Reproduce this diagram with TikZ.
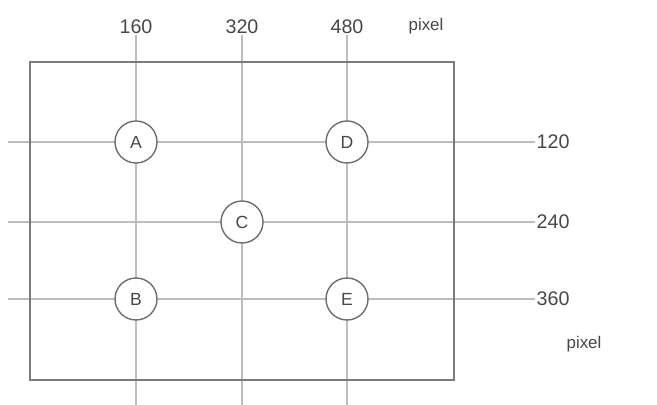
\documentclass[tikz,border=0pt]{standalone}
\usepackage{fontspec}
\setsansfont{Liberation Sans}
\usetikzlibrary{positioning}
\definecolor{gridcol}{HTML}{BDBDBD}
\definecolor{screencol}{HTML}{7A7A7A}
\definecolor{spotcol}{HTML}{6E6E6E}
\definecolor{txtcol}{HTML}{474747}

\begin{document}
\begin{tikzpicture}[
  x=0.025cm, y=-0.025cm,
  font=\sffamily,
  gridline/.style={draw=gridcol, line width=0.9pt},
  screen/.style={draw=screencol, line width=1.2pt},
  spot/.style={
    circle, draw=spotcol, fill=white, line width=1pt,
    minimum size=1.05cm, inner sep=0pt,
    font=\sffamily\fontsize{12.5}{14}\selectfont, text=txtcol,
  },
  tick/.style={font=\sffamily\fontsize{14}{16}\selectfont, text=txtcol, inner sep=1pt},
  unitlabel/.style={font=\sffamily\fontsize{12}{14}\selectfont, text=txtcol},
]
\useasboundingbox (0,0) rectangle (657,405);

% ============================================================
% COLUMN TICKS (x in pixel)
% ============================================================
\node[tick, anchor=south] (x160) at (136,35) {160};
\node[tick, anchor=south] (x320) at (242,35) {320};
\node[tick, anchor=south] (x480) at (347,35) {480};
\node[unitlabel] (xunit) at (426,26) {pixel};
\coordinate (x160end) at (136,405);
\coordinate (x320end) at (242,405);
\coordinate (x480end) at (347,405);
\draw[gridline] (x160) -- (x160end);
\draw[gridline] (x320) -- (x320end);
\draw[gridline] (x480) -- (x480end);

% ============================================================
% ROW TICKS (y in pixel)
% ============================================================
\node[tick, anchor=west] (y120) at (535,142) {120};
\node[tick, anchor=west] (y240) at (535,222) {240};
\node[tick, anchor=west] (y360) at (535,299) {360};
\node[unitlabel] (yunit) at (584,344) {pixel};
\coordinate (y120start) at (8,142);
\coordinate (y240start) at (8,222);
\coordinate (y360start) at (8,299);
\draw[gridline] (y120start) -- (y120);
\draw[gridline] (y240start) -- (y240);
\draw[gridline] (y360start) -- (y360);

% Screen frame
\draw[screen] (30,62) rectangle (454,380);

% ============================================================
% SAMPLE POINTS
% ============================================================
\node[spot] (ptA) at (136,142) {A};
\node[spot] (ptD) at (347,142) {D};
\node[spot] (ptC) at (242,222) {C};
\node[spot] (ptB) at (136,299) {B};
\node[spot] (ptE) at (347,299) {E};

\end{tikzpicture}
\end{document}
